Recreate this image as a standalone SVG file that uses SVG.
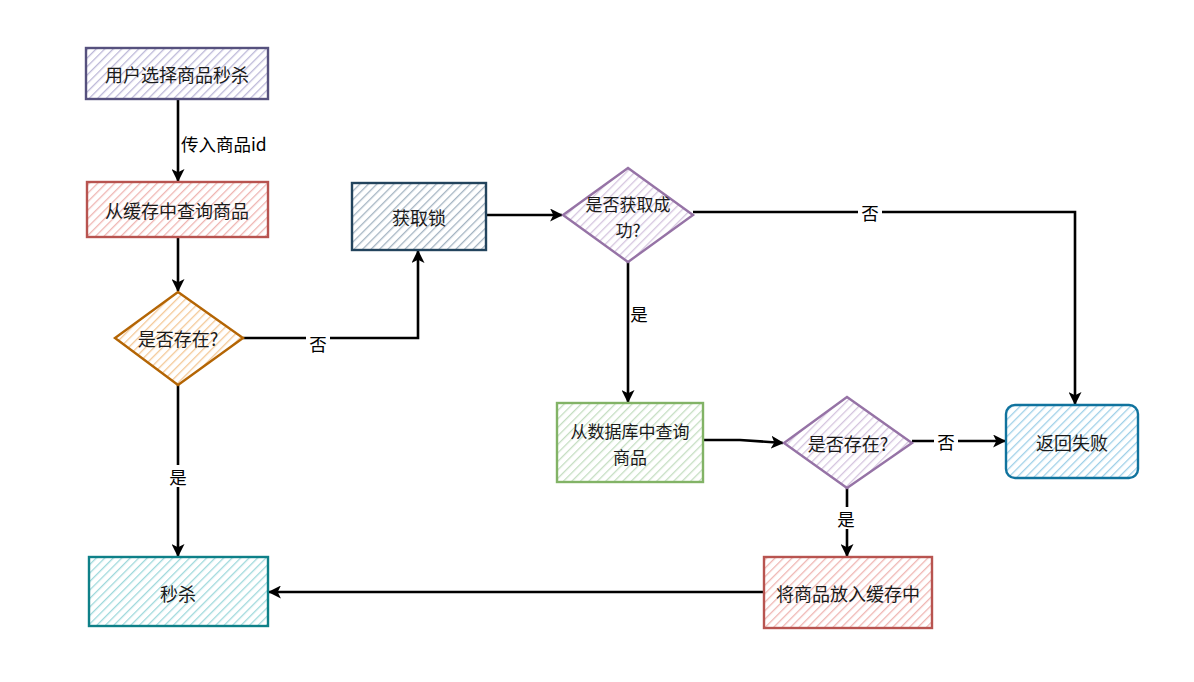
<svg xmlns="http://www.w3.org/2000/svg" width="1194" height="682" viewBox="0 0 1194 682">
<defs>
<pattern id="hPurple" patternUnits="userSpaceOnUse" width="6" height="6" patternTransform="rotate(45)"><rect width="6" height="6" fill="#fff"/><line x1="0" y1="0" x2="0" y2="6" stroke="#bcb8d8" stroke-width="2.6"/></pattern>
<pattern id="hRed" patternUnits="userSpaceOnUse" width="6" height="6" patternTransform="rotate(45)"><rect width="6" height="6" fill="#fff"/><line x1="0" y1="0" x2="0" y2="6" stroke="#efb5b2" stroke-width="2.6"/></pattern>
<pattern id="hOrange" patternUnits="userSpaceOnUse" width="6" height="6" patternTransform="rotate(45)"><rect width="6" height="6" fill="#fff"/><line x1="0" y1="0" x2="0" y2="6" stroke="#f4c896" stroke-width="2.6"/></pattern>
<pattern id="hSlate" patternUnits="userSpaceOnUse" width="6" height="6" patternTransform="rotate(45)"><rect width="6" height="6" fill="#fff"/><line x1="0" y1="0" x2="0" y2="6" stroke="#a4b4c2" stroke-width="2.6"/></pattern>
<pattern id="hLilac" patternUnits="userSpaceOnUse" width="6" height="6" patternTransform="rotate(45)"><rect width="6" height="6" fill="#fff"/><line x1="0" y1="0" x2="0" y2="6" stroke="#d5c5df" stroke-width="2.6"/></pattern>
<pattern id="hGreen" patternUnits="userSpaceOnUse" width="6" height="6" patternTransform="rotate(45)"><rect width="6" height="6" fill="#fff"/><line x1="0" y1="0" x2="0" y2="6" stroke="#c5dec2" stroke-width="2.6"/></pattern>
<pattern id="hBlue" patternUnits="userSpaceOnUse" width="6" height="6" patternTransform="rotate(45)"><rect width="6" height="6" fill="#fff"/><line x1="0" y1="0" x2="0" y2="6" stroke="#9fd0e8" stroke-width="2.6"/></pattern>
<pattern id="hTeal" patternUnits="userSpaceOnUse" width="6" height="6" patternTransform="rotate(45)"><rect width="6" height="6" fill="#fff"/><line x1="0" y1="0" x2="0" y2="6" stroke="#9fd9dc" stroke-width="2.6"/></pattern>
<marker id="arr" viewBox="0 0 12 12" refX="11" refY="6" markerWidth="13" markerHeight="13" markerUnits="userSpaceOnUse" orient="auto"><path d="M0,0 L12,6 L0,12 L3,6 Z" fill="#000"/></marker>
</defs>
<style>
text{font-family:"Noto Sans CJK SC","Liberation Sans",sans-serif;font-size:18px;fill:#1a1a1a;text-anchor:middle;dominant-baseline:central}
.lbl{font-size:17.5px;fill:#000}
.two{font-size:17px}
.bg{fill:#fff;stroke:none}
.c{fill:none;stroke:#000;stroke-width:2.6;marker-end:url(#arr)}
.n{stroke-width:2.4}
</style>
<rect width="1194" height="682" fill="#fff"/>
<g id="connectors">
<path class="c" d="M178,99 L178,181"/>
<text class="lbl" x="181" y="143" style="text-anchor:start">传入商品id</text>
<path class="c" d="M178,237 L178,291"/>
<path class="c" d="M243,338 L418,338 L418,251"/>
<rect class="bg" x="306" y="332" width="24" height="22"/>
<text class="lbl" x="318" y="343">否</text>
<path class="c" d="M178,385 L178,556"/>
<rect class="bg" x="166" y="465" width="24" height="22"/>
<text class="lbl" x="178" y="476">是</text>
<path class="c" d="M486,215 L562,215"/>
<path class="c" d="M693,212 L1075,212 L1075,404"/>
<rect class="bg" x="858" y="201" width="24" height="22"/>
<text class="lbl" x="870" y="212">否</text>
<path class="c" d="M628,262 L628,402"/>
<text class="lbl" x="639" y="313">是</text>
<path class="c" d="M703,440 L740,440 L783,443"/>
<path class="c" d="M912,441 L1005,441"/>
<rect class="bg" x="934" y="430" width="24" height="22"/>
<text class="lbl" x="946" y="441">否</text>
<path class="c" d="M847,488 L847,556"/>
<rect class="bg" x="834" y="507" width="24" height="22"/>
<text class="lbl" x="846" y="518">是</text>
<path class="c" d="M764,592 L269,592"/>
</g>
<g id="n1"><rect class="n" x="86" y="48" width="182" height="51" fill="url(#hPurple)" stroke="#56517e"/><text x="177" y="74">用户选择商品秒杀</text></g>
<g id="n2"><rect class="n" x="87" y="182" width="181" height="55" fill="url(#hRed)" stroke="#b85450"/><text x="177" y="210">从缓存中查询商品</text></g>
<g id="n3"><path class="n" d="M178,292 L243,338 L178,385 L115,338 Z" fill="url(#hOrange)" stroke="#b46504"/><text x="178" y="338">是否存在?</text></g>
<g id="n4"><rect class="n" x="352" y="183" width="134" height="67" fill="url(#hSlate)" stroke="#23445d"/><text x="419" y="217">获取锁</text></g>
<g id="n5"><path class="n" d="M628,168 L693,215 L628,262 L563,215 Z" fill="url(#hLilac)" stroke="#9673a6"/><text class="two" x="628" y="203">是否获取成</text><text class="two" x="628" y="229">功?</text></g>
<g id="n6"><rect class="n" x="557" y="403" width="146" height="79" fill="url(#hGreen)" stroke="#82b366"/><text class="two" x="630" y="430">从数据库中查询</text><text class="two" x="630" y="456">商品</text></g>
<g id="n7"><path class="n" d="M847,397 L912,443 L847,488 L784,443 Z" fill="url(#hLilac)" stroke="#9673a6"/><text x="848" y="443">是否存在?</text></g>
<g id="n8"><rect class="n" x="1006" y="405" width="132" height="73" rx="9" fill="url(#hBlue)" stroke="#10739e"/><text x="1072" y="442">返回失败</text></g>
<g id="n9"><rect class="n" x="89" y="557" width="179" height="69" fill="url(#hTeal)" stroke="#0e8088"/><text x="178" y="593">秒杀</text></g>
<g id="n10"><rect class="n" x="764" y="557" width="168" height="71" fill="url(#hRed)" stroke="#b85450"/><text x="848" y="593">将商品放入缓存中</text></g>
</svg>
